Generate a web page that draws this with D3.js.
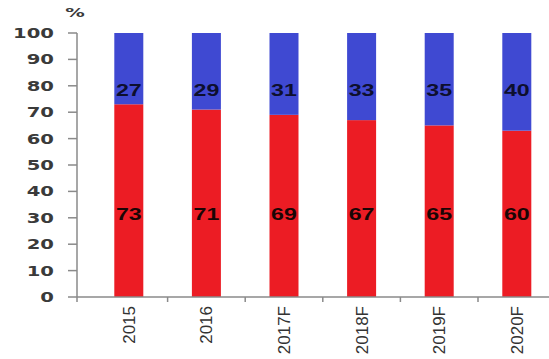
<!DOCTYPE html>
<html>
<head>
<meta charset="utf-8">
<script src="https://cdn.jsdelivr.net/npm/d3@7"></script>
<style>
html,body{margin:0;padding:0;background:#fff;}
svg{display:block;}
</style>
</head>
<body>
<svg id="chart" width="549" height="359"></svg>
<script>
const categories = ["2015", "2016", "2017F", "2018F", "2019F", "2020F"];
const redValues = [73, 71, 69, 67, 65, 63];
const blueValues = [27, 29, 31, 33, 35, 37];
const redLabels = ["73", "71", "69", "67", "65", "60"];
const blueLabels = ["27", "29", "31", "33", "35", "40"];
const yTicks = [0, 10, 20, 30, 40, 50, 60, 70, 80, 90, 100];

const RED = "#ec1c24", BLUE = "#3f49d2";
const svg = d3.select("#chart");

const y = d3.scaleLinear().domain([0, 100]).range([297, 33]);
const x = d3.scaleBand().domain(categories).range([91.5, 91.5 + 6 * 77.6]).paddingInner(0).paddingOuter(0);
const barW = 29;
const axisX = 77;

// bars
const g = svg.append("g");
categories.forEach((c, i) => {
  const cx = x(c) + x.bandwidth() / 2 - 1.5;
  g.append("rect").attr("x", cx - barW / 2).attr("width", barW)
    .attr("y", y(redValues[i])).attr("height", y(0) - y(redValues[i])).attr("fill", RED);
  g.append("rect").attr("x", cx - barW / 2).attr("width", barW)
    .attr("y", y(redValues[i] + blueValues[i])).attr("height", y(redValues[i]) - y(redValues[i] + blueValues[i])).attr("fill", BLUE);
  // labels
  svg.append("text").attr("transform", `translate(${cx},${y(76)}) scale(1.45,1)`)
    .attr("text-anchor", "middle").attr("font-family", "Liberation Sans, Arial, sans-serif")
    .attr("font-weight", "bold").attr("font-size", 16).attr("fill", "#0d0f2e").text(blueLabels[i]);
  svg.append("text").attr("transform", `translate(${cx},${y(29)}) scale(1.45,1)`)
    .attr("text-anchor", "middle").attr("font-family", "Liberation Sans, Arial, sans-serif")
    .attr("font-weight", "bold").attr("font-size", 16).attr("fill", "#1a0505").text(redLabels[i]);
  // x labels
  svg.append("text").attr("transform", `translate(${cx + 6},306) rotate(-90)`)
    .attr("text-anchor", "end").attr("font-family", "Liberation Sans, Arial, sans-serif")
    .attr("font-size", 17).attr("fill", "#333").text(c);
});

// y axis
const axisColor = "#8a8a8a";
svg.append("line").attr("x1", axisX).attr("x2", axisX).attr("y1", y(100)).attr("y2", y(0) + 5)
  .attr("stroke", axisColor).attr("stroke-width", 1.5);
yTicks.forEach(t => {
  svg.append("line").attr("x1", axisX - 9).attr("x2", axisX).attr("y1", y(t)).attr("y2", y(t))
    .attr("stroke", axisColor).attr("stroke-width", 1.5);
  svg.append("text").attr("transform", `translate(54,${y(t) + 5}) scale(1.4,1)`)
    .attr("text-anchor", "end").attr("font-family", "DejaVu Sans, sans-serif")
    .attr("font-weight", "bold").attr("font-size", 14).attr("fill", "#3a3a3a").text(t);
});
svg.append("text").attr("transform", `translate(75,17) scale(1.5,1)`)
  .attr("text-anchor", "middle").attr("font-family", "DejaVu Sans, sans-serif")
  .attr("font-weight", "bold").attr("font-size", 13).attr("fill", "#3a3a3a").text("%");

// x axis
svg.append("line").attr("x1", axisX).attr("x2", 549).attr("y1", y(0)).attr("y2", y(0))
  .attr("stroke", axisColor).attr("stroke-width", 1.5);
categories.slice(1).forEach(c => {
  svg.append("line").attr("x1", x(c) - 1.5).attr("x2", x(c) - 1.5).attr("y1", y(0)).attr("y2", y(0) + 5)
    .attr("stroke", axisColor).attr("stroke-width", 1.5);
});
</script>
</body>
</html>
